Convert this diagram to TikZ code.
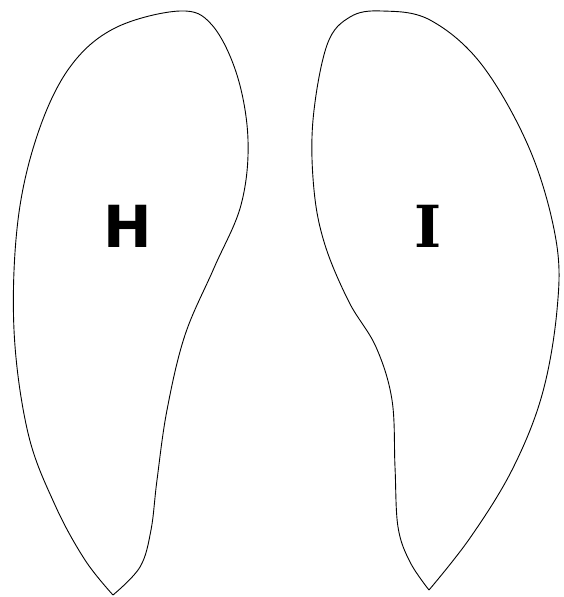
\documentclass[tikz,border=0pt]{standalone}
\usepackage{fontspec}
\setmainfont{DejaVu Sans}
\newfontfamily\labserif{DejaVu Serif}
\begin{document}
\begin{tikzpicture}[x=1pt,y=-1pt,
  lobe/.style={draw=black,line width=0.9pt,line join=round},
  lab/.style={font=\fontsize{58}{60}\selectfont\bfseries,inner sep=0pt}]
\useasboundingbox[fill=white] (0,0) rectangle (564,597);
\draw[lobe] plot[smooth,tension=0.6] coordinates {
  (113,595) (85,560) (55,505) (28,433) (14,330) (18,220) (38,133) (70,67) (115,28) (180,11)
  (212,25) (237,75) (248,140) (241,205) (214,268) (185,335) (167,410) (157,480) (151,530) (140,567) (113,595)};
\draw[lobe] plot[smooth,tension=0.6] coordinates {
  (429,590) (410,562) (398,527) (395,467) (392,400) (376,347) (349,302) (325,245) (314,190) (313,120) (327,45) (350,17) (382,11)
  (430,20) (482,65) (530,150) (556,240) (557,310) (542,395) (512,470) (470,538) (429,590)};
\node[lab] (H) at (128,226) {H};
\node[lab,font=\fontsize{58}{60}\selectfont\bfseries\labserif] (I) at (428,226) {I};
\end{tikzpicture}
\end{document}
